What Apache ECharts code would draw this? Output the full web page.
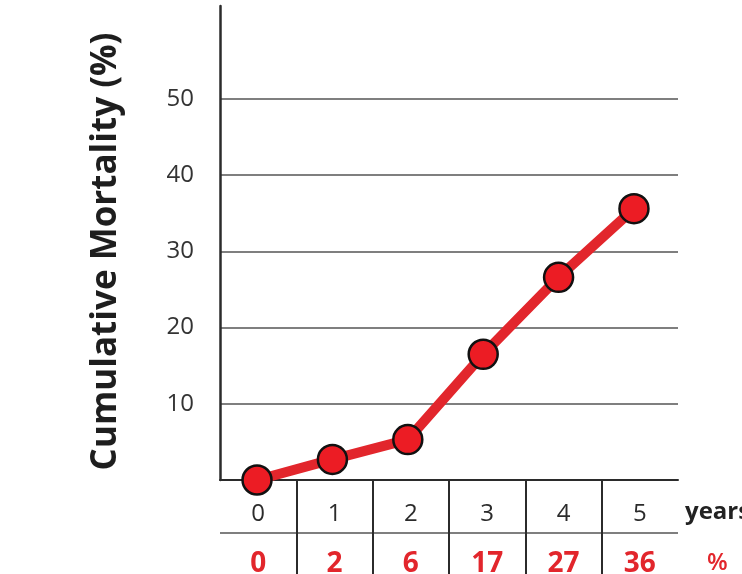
<!DOCTYPE html>
<html>
<head>
<meta charset="utf-8">
<script src="https://cdn.jsdelivr.net/npm/echarts@6/dist/echarts.min.js"></script>
<style>
  html, body { margin: 0; padding: 0; background: #fff; }
  #chart { width: 742px; height: 574px; }
</style>
</head>
<body>
<div id="chart"></div>
<script>
const years = [0, 1, 2, 3, 4, 5]
const mortality = [0, 2.7, 5.3, 16.5, 26.6, 35.6]
const tableValues = ['0', '2', '6', '17', '27', '36']
const yTicks = [10, 20, 30, 40, 50]

const font = '"Open Sans", "DejaVu Sans", sans-serif'
const red = '#e2262c'

const chart = echarts.init(document.getElementById('chart'))

chart.setOption({
  animation: false,
  grid: [
    { left: 220, right: 64, top: 6, bottom: 94, outerBoundsMode: 'none', containLabel: false },
    { left: 220, right: 64, top: 480, bottom: -11, outerBoundsMode: 'none', containLabel: false },
  ],
  xAxis: [
    {
      gridIndex: 0,
      type: 'value',
      min: -0.491,
      max: 5.584,
      axisLine: { show: true, onZero: false, lineStyle: { color: '#2b2b2b', width: 2 } },
      axisTick: { show: false },
      axisLabel: { show: false },
      splitLine: { show: false },
      name: 'years',
      nameLocation: 'end',
      nameGap: 7,
      nameTextStyle: {
        fontFamily: font, fontSize: 24, fontWeight: 'bold', color: '#222',
        verticalAlign: 'top', lineHeight: 64,
      },
    },
    {
      gridIndex: 1,
      type: 'category',
      position: 'top',
      data: years.map(String),
      boundaryGap: true,
      axisLine: { show: false },
      axisTick: { show: false },
      axisLabel: {
        inside: true, margin: 22,
        fontFamily: font, fontSize: 24, color: '#2b2b2b',
      },
      splitLine: {
        show: true, showMinLine: false, showMaxLine: false,
        lineStyle: { color: '#2b2b2b', width: 2 },
      },
    },
    {
      gridIndex: 1,
      type: 'category',
      position: 'bottom',
      data: tableValues,
      boundaryGap: true,
      axisLine: { show: false },
      axisTick: { show: false },
      axisLabel: {
        inside: true, margin: 7,
        fontFamily: font, fontSize: 28, fontWeight: 'bold', color: red,
      },
      splitLine: { show: false },
      name: '%',
      nameLocation: 'end',
      nameGap: 29,
      nameTextStyle: {
        fontFamily: font, fontSize: 24, fontWeight: 600, color: red,
        verticalAlign: 'bottom', lineHeight: 44,
      },
    },
  ],
  yAxis: [
    {
      gridIndex: 0,
      type: 'value',
      min: 0,
      max: 62.2,
      axisLine: { show: true, onZero: false, lineStyle: { color: '#2b2b2b', width: 2.5 } },
      axisTick: { show: false, customValues: yTicks },
      axisLabel: {
        customValues: yTicks,
        margin: 26,
        fontFamily: font, fontSize: 24, color: '#333',
      },
      splitLine: { show: true, lineStyle: { color: '#555', width: 1.5 } },
      name: 'Cumulative Mortality (%)',
      nameLocation: 'middle',
      nameGap: 96,
      nameTextStyle: {
        fontFamily: font, fontSize: 35, fontWeight: 'bold', color: '#1e1e1e',
        padding: [0, 17, 0, 0],
      },
    },
    {
      gridIndex: 1,
      type: 'value',
      min: 0,
      max: 2,
      interval: 1,
      axisLine: { show: false },
      axisTick: { show: false },
      axisLabel: { show: false },
      splitLine: {
        show: true, showMinLine: false, showMaxLine: false,
        lineStyle: { color: '#555', width: 1.5 },
      },
    },
  ],
  series: [
    {
      type: 'line',
      xAxisIndex: 0,
      yAxisIndex: 0,
      data: years.map((y, i) => [y, mortality[i]]),
      lineStyle: { color: red, width: 10 },
      symbol: 'circle',
      symbolSize: 29,
      itemStyle: { color: '#ec1c24', borderColor: '#111', borderWidth: 2.5 },
      clip: false,
      z: 5,
    },
  ],
})
</script>
</body>
</html>
